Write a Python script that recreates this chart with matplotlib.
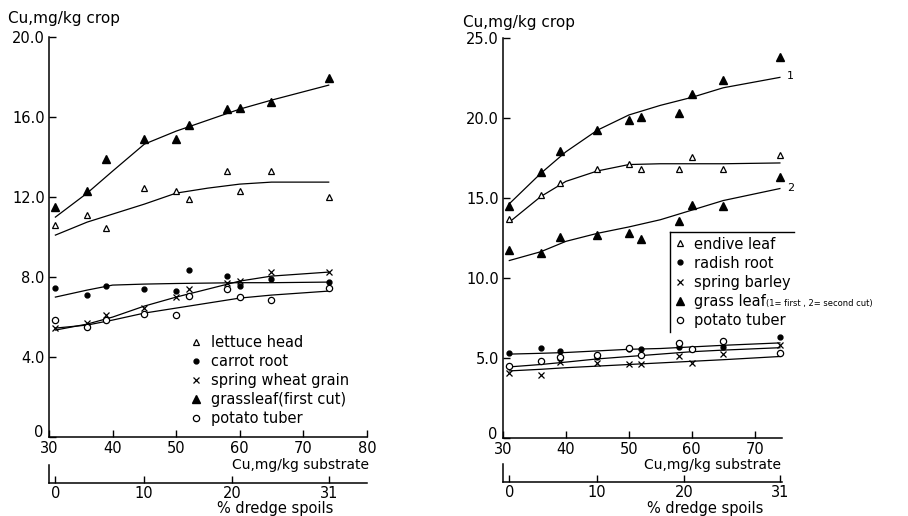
import matplotlib
matplotlib.use("Agg")
import matplotlib.pyplot as plt
from matplotlib.lines import Line2D
from matplotlib.ticker import FuncFormatter
from matplotlib.transforms import ScaledTranslation

plt.rcParams["font.family"] = "DejaVu Sans"
plt.rcParams["font.size"] = 10

# Cu in substrate (mg/kg) for each pot, same in both panels
cu_substrate = [31, 36, 39, 45, 50, 52, 58, 60, 65, 74]
fit_x = [31, 36, 40, 45, 50, 55, 60, 65, 74]

# left panel: Cu in crop (mg/kg)
lettuce_head = [10.6, 11.1, 10.45, 12.45, 12.3, 11.9, 13.3, 12.3, 13.3, 12.0]
carrot_root = [7.45, 7.1, 7.55, 7.4, 7.3, 8.35, 8.05, 7.55, 7.9, 7.75]
wheat_grain = [5.45, 5.7, 6.1, 6.45, 7.0, 7.4, 7.7, 7.8, 8.25, 8.25]
grass_first = [11.5, 12.3, 13.9, 14.9, 14.9, 15.6, 16.4, 16.45, 16.75, 17.95]
potato_left = [5.85, 5.5, 5.85, 6.15, 6.1, 7.05, 7.4, 7.0, 6.85, 7.45]

lettuce_fit = [10.1, 10.75, 11.15, 11.65, 12.2, 12.45, 12.65, 12.75, 12.75]
carrot_fit = [7.0, 7.35, 7.6, 7.65, 7.68, 7.7, 7.72, 7.72, 7.75]
wheat_fit = [5.35, 5.65, 6.0, 6.55, 7.0, 7.4, 7.8, 8.05, 8.25]
grass_first_fit = [11.0, 12.2, 13.3, 14.65, 15.3, 15.85, 16.4, 16.85, 17.6]
potato_left_fit = [5.45, 5.6, 5.85, 6.2, 6.45, 6.7, 6.95, 7.1, 7.3]

# right panel
endive_leaf = [13.7, 15.2, 15.95, 16.85, 17.15, 16.8, 16.85, 17.6, 16.85, 17.7]
radish_root = [5.3, 5.65, 5.45, 5.05, 5.55, 5.6, 5.7, 5.6, 5.7, 6.35]
spring_barley = [4.1, 3.95, 4.75, 4.7, 4.65, 4.65, 5.15, 4.7, 5.25, 5.8]
grass_cut1 = [14.5, 16.65, 17.95, 19.25, 19.9, 20.05, 20.3, 21.5, 22.4, 23.85]
grass_cut2 = [11.75, 11.55, 12.6, 12.7, 12.8, 12.45, 13.6, 14.55, 14.5, 16.3]
potato_right = [4.5, 4.8, 5.1, 5.2, 5.65, 5.2, 5.95, 5.6, 6.1, 5.3]

endive_fit = [13.5, 15.1, 16.05, 16.7, 17.1, 17.15, 17.15, 17.15, 17.2]
radish_fit = [5.25, 5.3, 5.35, 5.45, 5.55, 5.6, 5.7, 5.8, 5.95]
barley_fit = [4.2, 4.3, 4.4, 4.5, 4.6, 4.7, 4.8, 4.9, 5.1]
grass_cut1_fit = [14.65, 16.55, 17.9, 19.25, 20.2, 20.8, 21.3, 21.9, 22.55]
grass_cut2_fit = [11.1, 11.65, 12.3, 12.8, 13.2, 13.65, 14.25, 14.85, 15.6]
potato_right_fit = [4.45, 4.6, 4.75, 4.95, 5.1, 5.25, 5.4, 5.5, 5.65]

dredge_ticks = [0, 10, 20, 31]


def to_dredge(cu):
    # % dredge spoils scale under the substrate axis (0 % = 31 mg/kg, 31 % = 74 mg/kg)
    return (cu - 31) / 1.39


open_tri = dict(marker="^", mfc="white", mec="black", ms=5, mew=0.9)
filled_tri = dict(marker="^", mfc="black", mec="black", ms=6)
dot = dict(marker="o", mfc="black", mec="black", ms=3.5)
cross = dict(marker="x", color="black", ms=4.5, mew=0.9)
ring = dict(marker="o", mfc="white", mec="black", ms=4.5, mew=0.9)

fig = plt.figure(figsize=(9.08, 5.16), dpi=100)


def y_fmt(v, pos):
    return "0" if v == 0 else f"{v:.1f}"


def setup(ax, xlim, xticks, ylim, yticks):
    ax.set_xlim(*xlim)
    ax.set_ylim(*ylim)
    ax.set_xticks(xticks)
    ax.set_yticks(yticks)
    ax.yaxis.set_major_formatter(FuncFormatter(y_fmt))
    for s in ["top", "right"]:
        ax.spines[s].set_visible(False)
    for s in ["left", "bottom"]:
        ax.spines[s].set_linewidth(1.1)
    ax.tick_params(direction="in", length=5, width=1, labelsize=10.5)
    ax.tick_params(axis="x", pad=2.5)
    ax.tick_params(axis="y", pad=3)
    ax.patch.set_alpha(0)
    # lift the "0" of the y axis a little, clear of the "30" below it
    lbl = ax.yaxis.get_major_ticks()[0].label1
    lbl.set_transform(lbl.get_transform() + ScaledTranslation(-1 / 72, 4 / 72, fig.dpi_scale_trans))


def dredge_axis(rect, xlim):
    a = fig.add_axes(rect)
    a.set_xlim(to_dredge(xlim[0]), to_dredge(xlim[1]))
    a.set_xticks(dredge_ticks)
    a.set_yticks([])
    for s in ["top", "right"]:
        a.spines[s].set_visible(False)
    for s in ["left", "bottom"]:
        a.spines[s].set_linewidth(1.1)
    a.tick_params(direction="in", length=5, width=1, labelsize=10.5, pad=2)
    a.patch.set_alpha(0)
    return a


def points(ax, y, style):
    ax.plot(cu_substrate, y, ls="none", clip_on=False, zorder=3, **style)


def trend(ax, y):
    ax.plot(fit_x, y, color="black", lw=0.9, zorder=2)


def handles():
    return [Line2D([], [], ls="none", **open_tri), Line2D([], [], ls="none", **dot),
            Line2D([], [], ls="none", **cross), Line2D([], [], ls="none", **filled_tri),
            Line2D([], [], ls="none", **ring)]


# ---- left panel ----
axL = fig.add_axes([0.054, 0.153, 0.350, 0.775])
setup(axL, (30, 80), [30, 40, 50, 60, 70, 80], (0, 20), [0, 4, 8, 12, 16, 20])
for y, fit, st in [(grass_first, grass_first_fit, filled_tri),
                   (lettuce_head, lettuce_fit, open_tri),
                   (carrot_root, carrot_fit, dot),
                   (wheat_grain, wheat_fit, cross),
                   (potato_left, potato_left_fit, ring)]:
    trend(axL, fit)
    points(axL, y, st)

left_labels = ["lettuce head", "carrot root", "spring wheat grain",
               "grassleaf(first cut)", "potato tuber"]
axL.legend(handles(), left_labels, loc="upper left", bbox_to_anchor=(0.445, 0.255),
           frameon=False, handlelength=0.8, handletextpad=0.6, labelspacing=0.28,
           borderpad=0, borderaxespad=0, fontsize=10.5)
dredge_axis([0.054, 0.064, 0.350, 0.035], (30, 80))

# ---- right panel ----
axR = fig.add_axes([0.554, 0.151, 0.307, 0.775])
setup(axR, (30, 74.3), [30, 40, 50, 60, 70], (0, 25), [0, 5, 10, 15, 20, 25])
for y, fit, st in [(grass_cut1, grass_cut1_fit, filled_tri),
                   (endive_leaf, endive_fit, open_tri),
                   (grass_cut2, grass_cut2_fit, filled_tri),
                   (radish_root, radish_fit, dot),
                   (spring_barley, barley_fit, cross),
                   (potato_right, potato_right_fit, ring)]:
    trend(axR, fit)
    points(axR, y, st)
axR.annotate("1", (fit_x[-1], grass_cut1_fit[-1]), xytext=(5, -1),
             textcoords="offset points", fontsize=8, annotation_clip=False)
axR.annotate("2", (fit_x[-1], grass_cut2_fit[-1]), xytext=(5, -2),
             textcoords="offset points", fontsize=8, annotation_clip=False)

right_labels = ["endive leaf", "radish root", "spring barley", "grass leaf", "potato tuber"]
legR = axR.legend(handles(), right_labels, loc="upper left", bbox_to_anchor=(0.60, 0.515),
                  frameon=True, handlelength=0.8, handletextpad=0.5, labelspacing=0.28,
                  borderpad=0.3, borderaxespad=0, fontsize=10.5)
legR.get_frame().set_visible(False)
dredge_axis([0.554, 0.066, 0.307, 0.035], (30, 74.3))

# legend box: only the top and left edges were printed; small note after "grass leaf"
fig.canvas.draw()
renderer = fig.canvas.get_renderer()
inv = fig.transFigure.inverted()
bb = legR.get_window_extent(renderer)
(x0, y0), (x1, y1) = inv.transform([[bb.x0, bb.y0], [bb.x1, bb.y1]])
fig.add_artist(Line2D([x0, x0 + 124 / 908], [y1, y1], color="black", lw=1,
                      transform=fig.transFigure))
fig.add_artist(Line2D([x0, x0], [y0, y1], color="black", lw=1, transform=fig.transFigure))
tb = legR.get_texts()[3].get_window_extent(renderer)
nx, ny = inv.transform((tb.x1 + 1, tb.y0 + 3))
fig.text(nx, ny, "(1= first , 2= second cut)", fontsize=6, va="baseline", ha="left")

# axis titles
fig.text(8 / 908, 1 - 18 / 516, "Cu,mg/kg crop", va="center", ha="left", fontsize=11)
fig.text(463 / 908, 1 - 23 / 516, "Cu,mg/kg crop", va="center", ha="left", fontsize=11)
fig.text(301 / 908, 1 - 465 / 516, "Cu,mg/kg substrate", va="center", ha="center", fontsize=10)
fig.text(713 / 908, 1 - 465 / 516, "Cu,mg/kg substrate", va="center", ha="center", fontsize=10)
fig.text(275 / 908, 1 - 508 / 516, "% dredge spoils", va="center", ha="center", fontsize=10.5)
fig.text(705 / 908, 1 - 508 / 516, "% dredge spoils", va="center", ha="center", fontsize=10.5)

fig.savefig("out.png", dpi=100)
